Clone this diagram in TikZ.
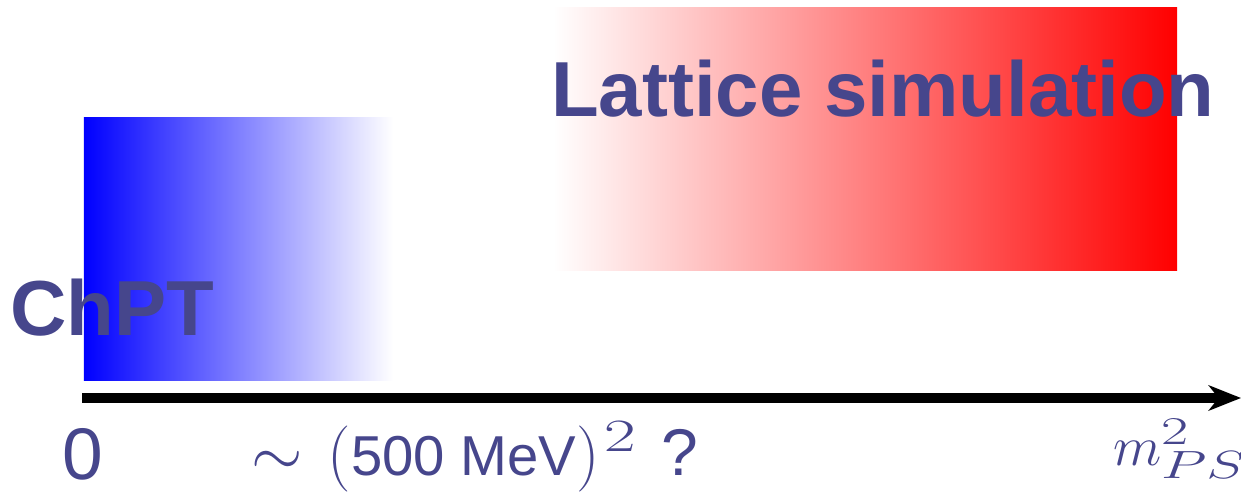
\RequirePackage{fix-cm}
\documentclass[tikz,border=0pt]{standalone}
\usepackage[no-math]{fontspec}
\setmainfont{Liberation Sans}
\usepackage{graphicx}
\usepackage{tikz}
\usetikzlibrary{arrows.meta}
\definecolor{slate}{RGB}{70,70,140}
% wide scripts, as in the axis labels
\newcommand{\widescript}[1]{\scalebox{1.5}[1]{$\scriptstyle #1$}}

\begin{document}
\begin{tikzpicture}[x=0.025cm, y=-0.025cm,
  every node/.style={inner sep=0pt, outer sep=0pt},
  rangebox/.style={rectangle, minimum height=6.55cm},
  bigtext/.style={anchor=base west, text=slate, font=\fontsize{55.5}{60}\selectfont\bfseries},
  axistext/.style={anchor=base west, text=slate, font=\fontsize{47}{50}\selectfont}]
  % picture frame (pixel coordinates, y grows downwards)
  \useasboundingbox (0,0) rectangle (1241,497);

  % shaded ranges
  \node (chbox) [rangebox, minimum width=7.725cm, left color=blue, right color=white] at (238.5,249) {};
  \node (latbox) [rangebox, minimum width=15.6cm, left color=white, right color=red] at (865,139) {};

  % labels of the ranges
  \node (chpt) [bigtext] at (10,336) {ChPT};
  \node (lat) [bigtext] at (551,117) {Lattice simulation};

  % axis
  \coordinate (origin) at (82,398);
  \coordinate (tip) at (1241,398);
  \draw[line width=6.5pt, -{Stealth[length=23pt, width=18pt, inset=7pt]}] (origin) -- (tip);

  % axis labels
  \node (zero) [axistext, font=\fontsize{52}{55}\selectfont] at (62,479) {0};
  \node (scale) [axistext] at (251,475)
    {$\sim$\hspace{5pt} $(${\fontsize{40}{44}\selectfont 500 MeV}$)^{\hspace{3pt}\widescript{2}}$\hspace{5pt} ?};
  \node (mps) [axistext, font=\fontsize{40}{44}\selectfont] at (1113,465) {$m^{\widescript{2}}_{\widescript{PS}}$};
\end{tikzpicture}
\end{document}
